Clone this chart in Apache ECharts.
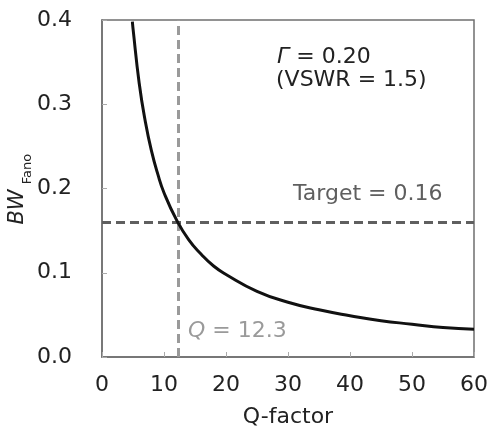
<!DOCTYPE html>
<html><head><meta charset="utf-8">
<script src="https://cdn.jsdelivr.net/npm/echarts@6/dist/echarts.min.js"></script>
<style>html,body{margin:0;padding:0;background:#fff}#c{width:491px;height:434px}</style>
</head><body><div id="c"></div>
<script>
// Q-factor (x) and Bode-Fano bandwidth (y)
const qValues  = [4.9, 5, 6, 7, 8, 9, 10, 12, 14, 16, 18, 20, 25, 30, 35, 40, 45, 50, 55, 60];
const bwValues = [0.398, 0.390, 0.325, 0.279, 0.244, 0.217, 0.195, 0.163, 0.139, 0.122, 0.108, 0.098, 0.078, 0.065, 0.056, 0.049, 0.043, 0.039, 0.035, 0.033];
const targetBW = 0.16;
const targetQ = 12.3;
const xTicks = [0, 10, 20, 30, 40, 50, 60];
const yTicks = [0.0, 0.1, 0.2, 0.3, 0.4];

const FONT = 'DejaVu Sans';
const FS = 22;
const chart = echarts.init(document.getElementById('c'), null, {renderer: 'canvas'});
chart.setOption({
  animation: false,
  backgroundColor: '#fff',
  grid: {left: 102, top: 20, width: 373, height: 337, show: true, borderColor: '#6f6f6f', borderWidth: 1.5, backgroundColor: 'transparent'},
  xAxis: {
    type: 'value', min: xTicks[0], max: xTicks[xTicks.length - 1], interval: 10,
    name: 'Q-factor', nameLocation: 'middle', nameGap: 49,
    nameTextStyle: {fontFamily: FONT, fontSize: FS, color: '#222'},
    axisLine: {show: true, onZero: false, lineStyle: {color: '#6f6f6f', width: 1.5}},
    axisTick: {show: true, inside: true, length: 5, lineStyle: {color: '#aaa'}},
    axisLabel: {fontFamily: FONT, fontSize: FS, color: '#222', margin: 17},
    splitLine: {show: false}
  },
  yAxis: {
    type: 'value', min: yTicks[0], max: yTicks[yTicks.length - 1], interval: 0.1,
    axisLine: {show: true, onZero: false, lineStyle: {color: '#6f6f6f', width: 1.5}},
    axisTick: {show: true, inside: true, length: 5, lineStyle: {color: '#aaa'}},
    axisLabel: {fontFamily: FONT, fontSize: FS, color: '#222', margin: 30, formatter: v => v.toFixed(1)},
    splitLine: {show: false}
  },
  series: [{
    type: 'line', data: qValues.map((q, i) => [q, bwValues[i]]),
    smooth: true, showSymbol: false, symbol: 'none',
    lineStyle: {color: '#111', width: 3},
    z: 5,
    markLine: {
      silent: true, symbol: 'none', label: {show: false},
      data: [
        {yAxis: targetBW, lineStyle: {color: '#5f5f5f', width: 3, type: [9, 5]}},
        {xAxis: targetQ, lineStyle: {color: '#9a9a9a', width: 3, type: [9, 5]}}
      ]
    }
  }],
  graphic: [
    {type: 'text', left: 277, top: 46, style: {text: '{i|Γ} = 0.20', fontFamily: FONT, fontSize: FS, fill: '#222',
      rich: {i: {fontFamily: FONT, fontSize: FS, fontStyle: 'italic', fill: '#222'}}}},
    {type: 'text', left: 276, top: 69, style: {text: '(VSWR = 1.5)', fontFamily: FONT, fontSize: FS, fill: '#222'}},
    {type: 'text', left: 293, top: 183, style: {text: 'Target = 0.16', fontFamily: FONT, fontSize: FS, fill: '#5f5f5f'}},
    {type: 'text', left: 188, top: 320, style: {text: '{i|Q} = 12.3', fontFamily: FONT, fontSize: FS, fill: '#9a9a9a',
      rich: {i: {fontFamily: FONT, fontSize: FS, fontStyle: 'italic', fill: '#9a9a9a'}}}},
    {type: 'text', x: 18, y: 207, rotation: Math.PI / 2, style: {
      text: 'BW', align: 'center', verticalAlign: 'middle',
      fontFamily: FONT, fontSize: 21, fontStyle: 'italic', fill: '#222'}},
    {type: 'text', x: 28, y: 169, rotation: Math.PI / 2, style: {
      text: 'Fano', align: 'center', verticalAlign: 'middle',
      fontFamily: FONT, fontSize: 13, fill: '#222'}}
  ]
});
</script></body></html>
